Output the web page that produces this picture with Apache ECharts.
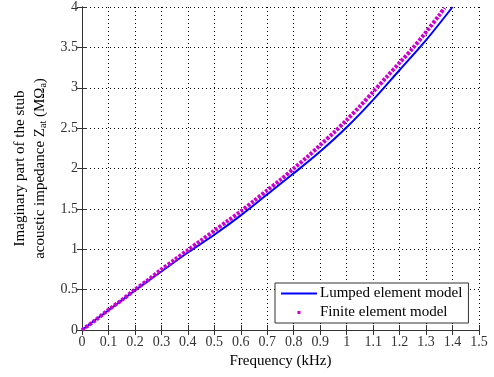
<!DOCTYPE html>
<html>
<head>
<meta charset="utf-8">
<script src="https://cdn.jsdelivr.net/npm/echarts@6/dist/echarts.min.js"></script>
<style>
  html, body { margin: 0; padding: 0; background: #fff; }
  #chart { width: 494px; height: 377px; }
</style>
</head>
<body>
<div id="chart"></div>
<script>
// lumped element model (blue line)
var lumpedFreq = [0, 0.1, 0.2, 0.3, 0.4, 0.5, 0.6, 0.7, 0.8, 0.9, 1.0, 1.1, 1.2, 1.3, 1.4];
var lumpedImag = [0, 0.245, 0.49, 0.725, 0.96, 1.18, 1.42, 1.68, 1.94, 2.21, 2.51, 2.85, 3.22, 3.59, 4.0];

// finite element model (magenta dots)
var feFreq = [0, 0.05, 0.1, 0.15, 0.2, 0.25, 0.3, 0.35, 0.4, 0.45, 0.5, 0.55, 0.6, 0.65, 0.7,
              0.75, 0.8, 0.85, 0.9, 0.95, 1.0, 1.05, 1.1, 1.15, 1.2, 1.25, 1.3, 1.35, 1.37];
var feImag = [0, 0.12, 0.25, 0.37, 0.5, 0.62, 0.75, 0.87, 0.99, 1.11, 1.23, 1.35, 1.47, 1.60, 1.73,
              1.86, 2.0, 2.14, 2.29, 2.44, 2.6, 2.77, 2.95, 3.13, 3.31, 3.49, 3.69, 3.9, 3.99];

var serif = 'Liberation Serif';

function pairs(xs, ys) {
    return xs.map(function (x, i) { return [x, ys[i]]; });
}

var chart = echarts.init(document.getElementById('chart'));

var boxAxis = {
    axisLine: { show: true, lineStyle: { color: '#333', width: 1 } },
    axisTick: { show: true, inside: true, length: 5, lineStyle: { color: '#333' } },
    axisLabel: { show: false },
    splitLine: { show: false }
};

chart.setOption({
    animation: false,
    grid: { left: 82, right: 15, top: 7, bottom: 47 },
    legend: {
        orient: 'vertical',
        left: 275,
        top: 283,
        padding: [3, 6, 3, 6],
        itemGap: 4,
        itemWidth: 36,
        itemHeight: 14,
        backgroundColor: '#fff',
        borderColor: '#333',
        borderWidth: 1,
        textStyle: { fontFamily: serif, fontSize: 15, color: '#000', padding: [0, 0, 0, -2] },
        data: [
            { name: 'Lumped element model', icon: 'path://M0,0h0.01v0.01h-0.01zM0,6h36v2h-36zM36,14h0.01v0.01h-0.01z' },
            { name: 'Finite element model', icon: 'path://M0,0h0.01v0.01h-0.01zM36,14h0.01v0.01h-0.01zM16.5,5.5h3v3h-3z' }
        ]
    },
    xAxis: [{
        type: 'value',
        min: 0, max: 1.5, interval: 0.1,
        name: 'Frequency (kHz)',
        nameLocation: 'middle',
        nameGap: 24,
        nameTextStyle: { fontFamily: serif, fontSize: 15, color: '#000' },
        axisLine: { show: true, onZero: false, lineStyle: { color: '#333' } },
        axisTick: { show: true, inside: true, length: 5, lineStyle: { color: '#333' } },
        axisLabel: { fontFamily: serif, fontSize: 14, color: '#333', margin: 5 },
        splitLine: { show: true, lineStyle: { color: '#000', type: [1, 3], width: 1 } }
    }, Object.assign({ type: 'value', position: 'top', min: 0, max: 1.5, interval: 0.1 }, boxAxis)],
    yAxis: [{
        type: 'value',
        min: 0, max: 4, interval: 0.5,
        name: '{a|Imaginary part of the stub}\n{a|acoustic impedance Z}{s|at}{a| (MΩ}{s|a}{a|)}',
        nameLocation: 'middle',
        nameRotate: 90,
        nameGap: 27,
        nameTextStyle: {
            fontFamily: serif, fontSize: 15, color: '#000', lineHeight: 20,
            rich: {
                a: { fontFamily: serif, fontSize: 15, color: '#000', lineHeight: 20 },
                s: { fontFamily: serif, fontSize: 10, color: '#000', padding: [7, 0, 0, 0] }
            }
        },
        axisLine: { show: true, onZero: false, lineStyle: { color: '#333' } },
        axisTick: { show: true, inside: true, length: 5, lineStyle: { color: '#333' } },
        axisLabel: { fontFamily: serif, fontSize: 14, color: '#333', margin: 4 },
        splitLine: { show: true, lineStyle: { color: '#000', type: [1, 3], width: 1 } }
    }, Object.assign({ type: 'value', position: 'right', min: 0, max: 4, interval: 0.5 }, boxAxis)],
    series: [
        {
            name: 'Lumped element model',
            type: 'line',
            symbol: 'none',
            smooth: 0.3,
            color: '#0000ff',
            lineStyle: { color: '#0000ff', width: 2 },
            data: pairs(lumpedFreq, lumpedImag)
        },
        {
            name: 'Finite element model',
            type: 'line',
            symbol: 'none',
            smooth: 0.3,
            color: '#cc00cc',
            lineStyle: { color: '#cc00cc', width: 4, type: [3, 1.5] },
            data: pairs(feFreq, feImag)
        }
    ]
});
</script>
</body>
</html>
